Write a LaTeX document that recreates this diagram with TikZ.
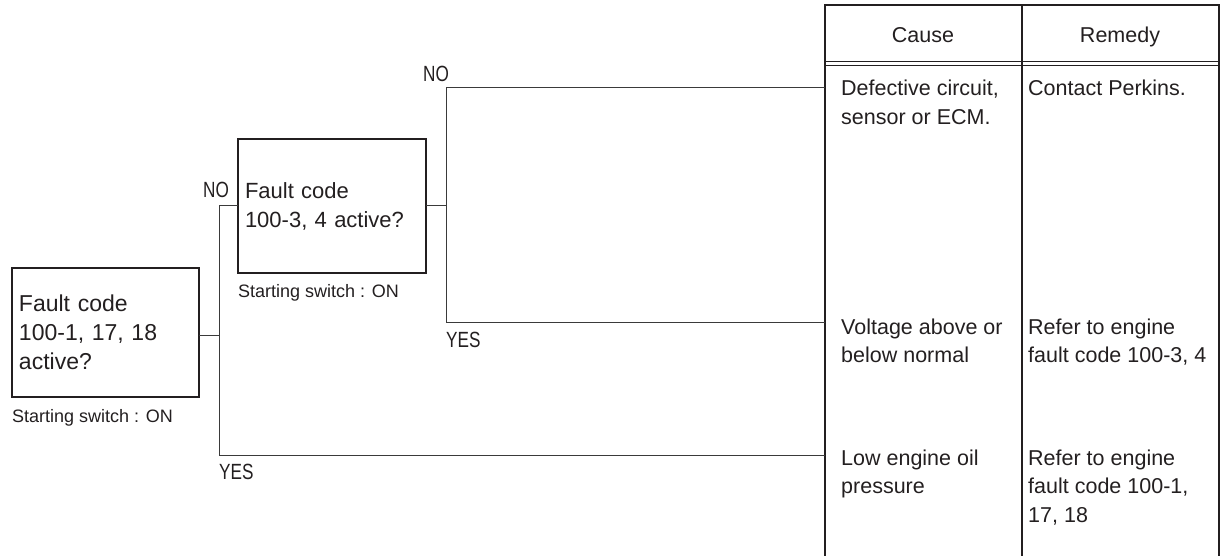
\documentclass[tikz,border=0pt]{standalone}
\usepackage{fontspec}
\setmainfont{Liberation Sans}
\usepackage{graphicx}
\definecolor{ink}{HTML}{231F20}
\definecolor{wire}{HTML}{3A3A3A}
\newcommand{\narrow}[1]{\scalebox{0.78}[1]{#1}}
\begin{document}
\begin{tikzpicture}[x=1pt,y=-1pt,
  qbox/.style={draw=ink, line width=1.3pt, outer sep=0pt, inner xsep=7pt, inner ysep=0pt,
    anchor=north west, align=left, text=ink},
  note/.style={anchor=base west, inner sep=0pt, text=ink, font=\fontsize{18}{22}\selectfont},
  yn/.style={anchor=base west, inner sep=0pt, text=ink, font=\fontsize{22}{26}\selectfont},
  cell/.style={anchor=base west, inner sep=0pt, align=left, text=ink, font=\fontsize{21.5}{28.5}\selectfont},
  head/.style={anchor=base, inner sep=0pt, text=ink, font=\fontsize{21.5}{26}\selectfont},
  wire/.style={draw=wire, line width=1pt},
  grid/.style={draw=ink, line width=1.3pt}]
\useasboundingbox (0,0) rectangle (1221,556);

% question boxes
\node[qbox, minimum width=187pt, minimum height=129pt, text width=173pt,
  font=\fontsize{23}{29}\selectfont] (b1) at (12,268) {Fault code\\100-1, 17, 18\\active?};
\node[qbox, minimum width=188pt, minimum height=134pt, text width=174pt,
  font=\fontsize{22}{29}\selectfont] (b2) at (238,139) {Fault code\\100-3, 4 active?};
\node[note] (s1) at (12,422) {Starting switch : ON};
\node[note] (s2) at (238,298) {Starting switch : ON};

% table
\coordinate (tl) at (825,5);
\coordinate (tm) at (1022,5);
\coordinate (tr) at (1219,5);
\coordinate (bl) at (825,557);
\coordinate (bm) at (1022,557);
\coordinate (br) at (1219,557);
\draw[grid] (bl) -- (tl) -- (tr) -- (br);
\draw[grid] (tm) -- (bm);
\draw[draw=ink, line width=1pt] (825,62) -- (1219,62);
\draw[draw=ink, line width=1pt] (825,65.5) -- (1219,65.5);

\node[head] (hc) at (923,43) {Cause};
\node[head] (hr) at (1120,43) {Remedy};

% base anchor of a multi-line node sits on its last line
\node[cell] (c1) at (841,124.5) {Defective circuit,\\sensor or ECM.};
\node[cell] (r1) at (1028,96) {Contact Perkins.};
\node[cell] (c2) at (841,362.5) {Voltage above or\\below normal};
\node[cell] (r2) at (1028,362.5) {Refer to engine\\fault code 100-3, 4};
\node[cell] (c3) at (841,493.5) {Low engine oil\\pressure};
\node[cell] (r3) at (1028,522) {Refer to engine\\fault code 100-1,\\17, 18};

% entry points on table
\coordinate (e1) at (825,88);
\coordinate (e2) at (825,322);
\coordinate (e3) at (825,455);

% connectors from box 1
\coordinate (j1) at (219,335);
\coordinate (n1) at (219,206);
\coordinate (y1) at (219,455);
\draw[wire] (b1.east |- j1) -- (j1);
\draw[wire] (b2.west |- n1) -- (n1) -- (y1) -- (e3);

% connectors from box 2
\coordinate (j2) at (446,206);
\coordinate (n2) at (446,88);
\coordinate (y2) at (446,322);
\draw[wire] (b2.east |- j2) -- (j2);
\draw[wire] (e1) -- (n2) -- (y2) -- (e2);

% labels
\node[yn] (no1) at (203,198) {\narrow{NO}};
\node[yn] (ye1) at (219,479) {\narrow{YES}};
\node[yn] (no2) at (423,82) {\narrow{NO}};
\node[yn] (ye2) at (446,347) {\narrow{YES}};
\end{tikzpicture}
\end{document}
